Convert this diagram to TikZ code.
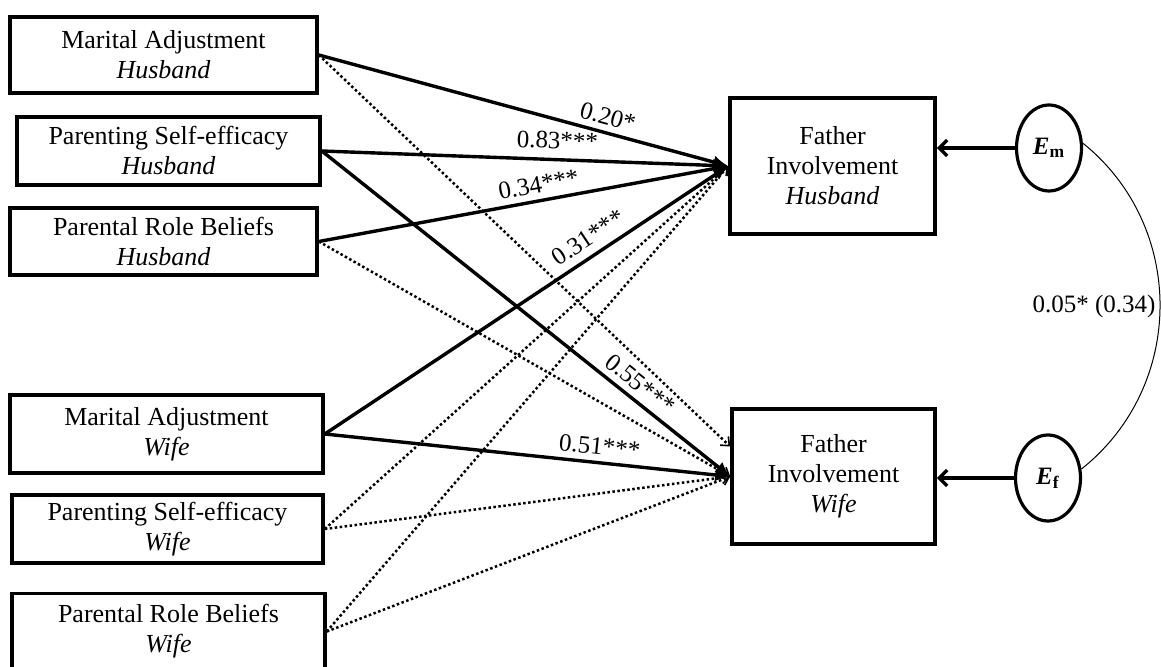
\documentclass[tikz,border=0pt]{standalone}
\usepackage{fontspec}
\setmainfont{Liberation Serif}
\usetikzlibrary{arrows.meta,shapes.geometric}
\begin{document}
\begin{tikzpicture}[x=0.5pt,y=-0.5pt,
  box/.style={draw,line width=1.8pt,align=center,inner sep=0pt,
    font=\fontsize{13}{15}\selectfont},
  latent/.style={draw,ellipse,line width=1.6pt,minimum width=32.5pt,
    minimum height=43pt,inner sep=0pt,font=\fontsize{12.5}{15}\selectfont},
  solidpath/.style={line width=1.7pt,-{Latex[length=7.5pt,width=6.5pt]}},
  dotpath/.style={line width=1.25pt,dash pattern=on 1.25pt off 1.25pt,
    -{Straight Barb[length=3.5pt,width=6pt,line width=0.8pt]}},
  errpath/.style={line width=1.7pt,-{Straight Barb[length=4pt,width=8pt]}},
  coef/.style={font=\fontsize{12.5}{15}\selectfont,sloped,above,inner sep=3pt},
]
\path[fill=white,use as bounding box] (0,0) rectangle (1161,667);

% predictors
\node[box,minimum width=153.5pt,minimum height=38pt] (mah) at (163.5,55)
  {Marital Adjustment\\\textit{Husband}};
\node[box,minimum width=151.5pt,minimum height=34pt] (psh) at (168.5,151)
  {Parenting Self-efficacy\\\textit{Husband}};
\node[box,minimum width=153.5pt,minimum height=33.5pt] (prbh) at (163.5,241.5)
  {Parental Role Beliefs\\\textit{Husband}};
\node[box,minimum width=156.5pt,minimum height=39pt] (maw) at (166.5,434)
  {Marital Adjustment\\\textit{Wife}};
\node[box,minimum width=155.5pt,minimum height=34pt] (psw) at (167.5,529)
  {Parenting Self-efficacy\\\textit{Wife}};
\node[box,minimum width=156.5pt,minimum height=38pt] (prbw) at (168.5,631.5)
  {Parental Role Beliefs\\\textit{Wife}};

% outcomes
\node[box,minimum width=102.5pt,minimum height=68pt] (fih) at (832.5,166)
  {Father\\Involvement\\\textit{Husband}};
\node[box,minimum width=101.5pt,minimum height=67.5pt] (fiw) at (833.5,476.5)
  {Father\\Involvement\\\textit{Wife}};

% residuals
\node[latent] (em) at (1049,148) {\textbf{\textit{E}}\textsubscript{\textbf{m}}};
\node[latent] (ef) at (1048,478) {\textbf{\textit{E}}\textsubscript{\textbf{f}}};

% non-significant paths
\draw[dotpath] (mah.east) -- ([yshift=15pt]fiw.west);
\draw[dotpath] (prbh.east) -- (fiw.west);
\draw[dotpath] (psw.east) -- (fih.west);
\draw[dotpath] (psw.east) -- (fiw.west);
\draw[dotpath] (prbw.east) -- (fih.west);
\draw[dotpath] (prbw.east) -- (fiw.west);

% significant paths
\draw[solidpath] (mah.east) -- node[coef,pos=0.696]{0.20*} (fih.west);
\draw[solidpath] (psh.east) -- node[coef,pos=0.578,above=1.5pt]{0.83***} (fih.west);
\draw[solidpath] (prbh.east) -- node[coef,pos=0.544]{0.34***} (fih.west);
\draw[solidpath] (maw.east) -- node[coef,pos=0.678,above=1pt]{0.31***} (fih.west);
\draw[solidpath] (psh.east) -- node[coef,pos=0.755]{0.55***} (fiw.west);
\draw[solidpath] (maw.east) -- node[coef,pos=0.674]{0.51***} (fiw.west);

% residual paths and their covariance
\draw[errpath] (em.west) -- (em.west -| fih.east);
\draw[errpath] (ef.west) -- (ef.west -| fiw.east);
\draw[line width=0.5pt] (em.8) .. controls (1186,226) and (1186,386) .. (ef.15)
  node[pos=0.5,left,inner sep=2pt,font=\fontsize{12.5}{15}\selectfont] (cov) {0.05* (0.34)};
\end{tikzpicture}
\end{document}
